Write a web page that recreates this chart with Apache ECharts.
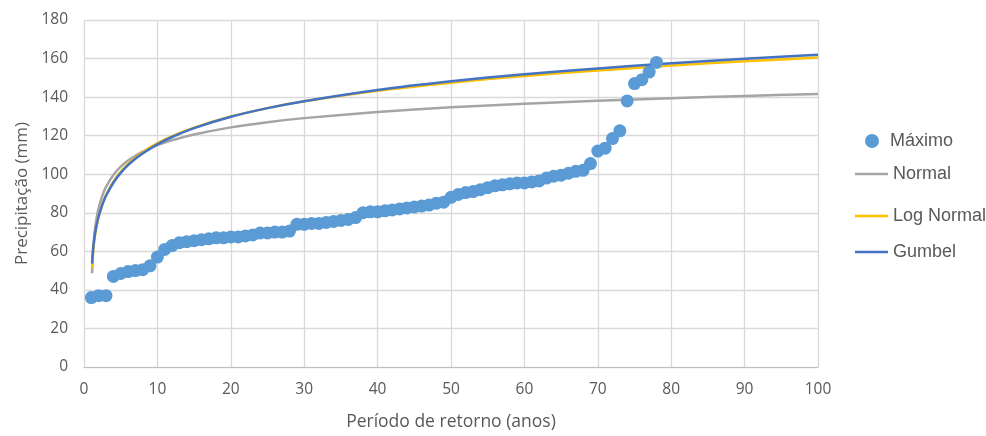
<!DOCTYPE html>
<html>
<head>
<meta charset="utf-8">
<script src="https://cdn.jsdelivr.net/npm/echarts@6/dist/echarts.min.js"></script>
<style>html,body{margin:0;padding:0;background:#fff}#c{width:986px;height:436px}</style>
</head>
<body>
<div id="c"></div>
<script>
const scatterX = [1,2,3,4,5,6,7,8,9,10,11,12,13,14,15,16,17,18,19,20,21,22,23,24,25,26,27,28,29,30,31,32,33,34,35,36,37,38,39,40,41,42,43,44,45,46,47,48,49,50,51,52,53,54,55,56,57,58,59,60,61,62,63,64,65,66,67,68,69,70,71,72,73,74,75,76,77,78];
const maximo = [36,37,37,47,48.5,49.5,50,50.5,52.5,57,61,63,64.5,65,65.5,66,66.5,67,67,67.5,67.5,68,68.5,69.5,69.5,70,70,70.5,74,74,74.5,74.5,75,75.5,76,76.5,77.5,80,80.5,80.5,81,81.5,82,82.5,83,83.5,84,85,85.5,88,89.5,90.5,91,92,93,94,94.5,95,95.5,95.5,96,96.5,98,99,99.5,100.5,101.5,102,105.5,112,113.5,118.5,122.5,138,147,149,153,158];
const curveT = [1.1,1.2,1.3,1.5,1.75,2,2.5,3,4,5,6,7,8,10,12,15,20,25,30,40,50,60,70,80,90,100];
const normalVals = [48.6,57.9,63.8,71.6,77.9,82.5,88.9,93.4,99.6,103.9,107.1,109.6,111.7,115.1,117.6,120.6,124.3,127.0,129.1,132.3,134.7,136.6,138.1,139.4,140.6,141.6];
const logNormalVals = [51.6,57.8,62.1,68.3,73.8,78.0,84.4,89.2,96.2,101.3,105.3,108.6,111.5,116.1,119.8,124.2,129.9,134.3,137.8,143.3,147.5,151.0,153.8,156.4,158.6,160.5];
const gumbelVals = [53.6,59.4,63.4,69.1,74.2,78.2,84.2,88.8,95.6,100.7,104.7,108.0,110.8,115.5,119.3,123.9,129.8,134.3,137.9,143.7,148.2,151.9,154.9,157.6,159.9,162.0];
const xTicks = {min:0, max:100, interval:10};
const yTicks = {min:0, max:180, interval:20};

const pair = (xs, ys) => xs.map((x, i) => [x, ys[i]]);
const chart = echarts.init(document.getElementById('c'));
const txt = '#595959';
const legFont = {color: txt, fontSize: 18, fontFamily: 'Liberation Sans, Arial, sans-serif'};
chart.setOption({
  animation: false,
  grid: {left: 84, right: 168, top: 20, bottom: 64, containLabel: false},
  xAxis: {
    type: 'value', min: xTicks.min, max: xTicks.max, interval: xTicks.interval,
    name: 'Período de retorno (anos)', nameLocation: 'middle', nameGap: 46,
    nameTextStyle: {color: txt, fontSize: 17.5, fontFamily: 'Open Sans'},
    axisLine: {show: true, lineStyle: {color: '#bfbfbf', width: 1}},
    axisTick: {show: false},
    axisLabel: {color: txt, fontSize: 15.5, fontFamily: 'Open Sans', margin: 15},
    splitLine: {show: true, lineStyle: {color: '#d9d9d9', width: 1.3}}
  },
  yAxis: {
    type: 'value', min: yTicks.min, max: yTicks.max, interval: yTicks.interval,
    name: 'Precipitação (mm)', nameLocation: 'middle', nameGap: 53,
    nameTextStyle: {color: txt, fontSize: 17, fontFamily: 'Open Sans'},
    axisLine: {show: false},
    axisTick: {show: false},
    axisLabel: {color: txt, fontSize: 15.5, fontFamily: 'Open Sans', margin: 16},
    splitLine: {show: true, lineStyle: {color: '#d9d9d9', width: 1.3}}
  },
  legend: [
    {data: [{name: 'Máximo', icon: 'circle'}], left: 860, top: 127, itemWidth: 14, itemHeight: 14, textStyle: Object.assign({padding: [0,0,0,6]}, legFont)},
    {data: [{name: 'Normal', icon: 'rect'}], left: 850, top: 160, itemWidth: 33, itemHeight: 2.5, textStyle: legFont},
    {data: [{name: 'Log Normal', icon: 'rect'}], left: 850, top: 202, itemWidth: 33, itemHeight: 2.5, textStyle: legFont},
    {data: [{name: 'Gumbel', icon: 'rect'}], left: 850, top: 238, itemWidth: 33, itemHeight: 2.5, textStyle: legFont}
  ],
  series: [
    {name: 'Normal', type: 'line', data: pair(curveT, normalVals), smooth: 0.3, showSymbol: false, symbol: 'none', lineStyle: {color: '#A5A5A5', width: 2.5}, itemStyle: {color: '#A5A5A5'}, z: 2},
    {name: 'Log Normal', type: 'line', data: pair(curveT, logNormalVals), smooth: 0.3, showSymbol: false, symbol: 'none', lineStyle: {color: '#FFC000', width: 2.5}, itemStyle: {color: '#FFC000'}, z: 3},
    {name: 'Gumbel', type: 'line', data: pair(curveT, gumbelVals), smooth: 0.3, showSymbol: false, symbol: 'none', lineStyle: {color: '#4472C4', width: 2.5}, itemStyle: {color: '#4472C4'}, z: 4},
    {name: 'Máximo', type: 'scatter', data: pair(scatterX, maximo), symbolSize: 13, itemStyle: {color: '#5B9BD5', opacity: 1}, z: 5}
  ]
});
</script>
</body>
</html>
